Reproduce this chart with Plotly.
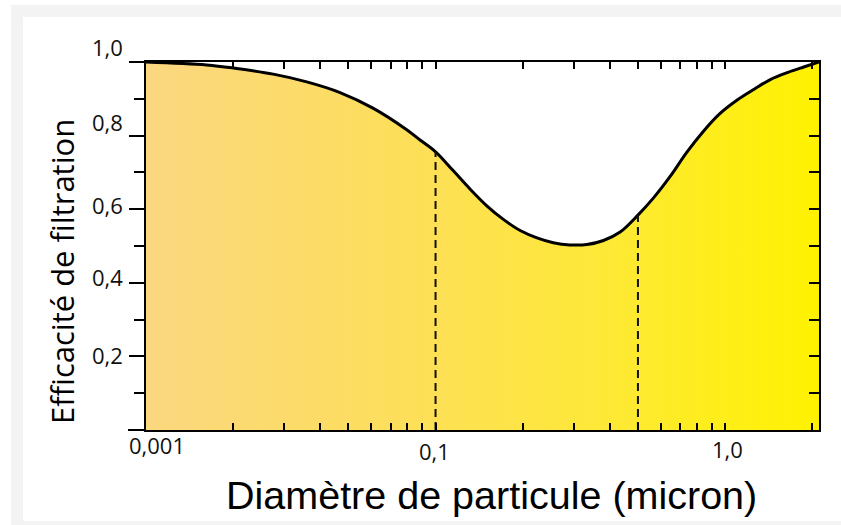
import numpy as np
import plotly.graph_objects as go

# ---------------- data ----------------
diam = [0.01, 0.0162, 0.0203, 0.0275, 0.0359, 0.0468, 0.061, 0.0795, 0.0884, 0.1,
        0.115, 0.1315, 0.15, 0.171, 0.196, 0.224, 0.255, 0.291, 0.333, 0.38,
        0.434, 0.5, 0.565, 0.646, 0.738, 0.842, 0.957, 1.098, 1.26, 1.438,
        1.65, 1.88, 2.11]
eff = [1.0, 0.992, 0.983, 0.967, 0.946, 0.917, 0.874, 0.816, 0.788, 0.756,
       0.705, 0.655, 0.610, 0.573, 0.542, 0.522, 0.509, 0.503, 0.504, 0.515,
       0.538, 0.584, 0.630, 0.689, 0.755, 0.812, 0.859, 0.896, 0.926, 0.953,
       0.972, 0.987, 1.0]
dashed_at = [0.1, 0.5]
x_tick_vals = [0.01, 0.02, 0.03, 0.04, 0.05, 0.06, 0.07, 0.08, 0.09,
               0.1, 0.2, 0.3, 0.4, 0.5, 0.6, 0.7, 0.8, 0.9, 1.0, 2.0]
x_label_vals = [0.01, 0.1, 1.0]
x_label_text = ["0,001", "0,1", "1,0"]
y_major_vals = [0, 0.2, 0.4, 0.6, 0.8, 1.0]
y_minor_vals = [0.1, 0.2, 0.3, 0.4, 0.5, 0.6, 0.7, 0.8, 0.9]
y_label_vals = [0.2, 0.4, 0.6, 0.8, 1.0]
y_label_text = ["0,2", "0,4", "0,6", "0,8", "1,0"]
x_title = "Diamètre de particule (micron)"
y_title = "Efficacité de filtration"

# ---------------- layout geometry (pixels) ----------------
W, H = 841, 525
L, R, T, B = 146, 819, 62, 430


def px_x(p):
    return (p - L) / (R - L)


def px_y(p):
    return (B - p) / (B - T)


# label placement styles (pixel centres)
x_label_pos = [(157, 445), (434, 451), (727, 449)]
y_label_center = [355, 277, 205, 122, 47]

fig = go.Figure()

fig.add_trace(go.Scatter(
    x=diam, y=eff, mode="lines",
    line=dict(color="black", width=3, shape="spline", smoothing=1.0),
    fill="tozeroy",
    fillgradient=dict(type="horizontal",
                      colorscale=[[0, "#FBD780"], [0.4, "#FDDF58"],
                                  [0.7, "#FEE934"], [1, "#FFF200"]]),
    hoverinfo="skip", cliponaxis=False,
))

for xv in dashed_at:
    yv = float(np.interp(np.log10(xv), np.log10(diam), eff))
    fig.add_trace(go.Scatter(
        x=[xv, xv], y=[0, yv], mode="lines",
        line=dict(color="#111111", width=2, dash="8px,5px"),
        hoverinfo="skip",
    ))

# invisible trace to host the right-side tick axis
fig.add_trace(go.Scatter(x=diam, y=eff, yaxis="y2", mode="lines",
                         line=dict(width=0), opacity=0, hoverinfo="skip"))

fig.update_layout(
    width=W, height=H,
    margin=dict(l=L, r=W - R, t=T, b=H - B, autoexpand=False),
    paper_bgcolor="white", plot_bgcolor="rgba(0,0,0,0)",
    showlegend=False,
    xaxis=dict(type="log", range=[-2, np.log10(2.11)], showline=True,
               linecolor="black", linewidth=2, mirror="ticks",
               ticks="inside", ticklen=7, tickwidth=2, tickcolor="black",
               tickvals=x_tick_vals, showticklabels=False,
               showgrid=False, zeroline=False),
    yaxis=dict(range=[0, 1], showline=True, linecolor="black", linewidth=2,
               mirror=True, ticks="outside", ticklen=15, tickwidth=2,
               tickcolor="black", tickvals=y_major_vals, showticklabels=False,
               minor=dict(ticks="outside", ticklen=10, tickwidth=2,
                          tickcolor="black", tickvals=y_minor_vals),
               showgrid=False, zeroline=False),
    yaxis2=dict(range=[0, 1], overlaying="y", side="right", ticks="inside",
                ticklen=10, tickwidth=2, tickcolor="black",
                tickvals=y_minor_vals, showticklabels=False,
                showgrid=False, zeroline=False, showline=False),
)

shapes = [
    dict(type="rect", xref="paper", yref="paper", layer="below",
         x0=px_x(11), x1=px_x(850), y0=px_y(535), y1=px_y(5),
         fillcolor="#F3F3F3", line=dict(width=0)),
    dict(type="rect", xref="paper", yref="paper", layer="below",
         x0=px_x(23), x1=px_x(850), y0=px_y(521), y1=px_y(17),
         fillcolor="white", line=dict(width=0)),
    dict(type="line", xref="paper", yref="paper",
         x0=px_x(128), x1=px_x(146), y0=0, y1=0,
         line=dict(color="black", width=2)),
]
fig.update_layout(shapes=shapes)

ann = []
for v, t, (cx, cy) in zip(x_label_vals, x_label_text, x_label_pos):
    ann.append(dict(x=px_x(cx), y=px_y(cy), xref="paper", yref="paper",
                    text=t, showarrow=False, xanchor="center", yanchor="middle",
                    font=dict(family="Open Sans", size=22, color="#111111")))
for v, t, cy in zip(y_label_vals, y_label_text, y_label_center):
    ann.append(dict(x=px_x(125), y=px_y(cy), xref="paper", yref="paper",
                    text=t, showarrow=False, xanchor="right", yanchor="middle",
                    font=dict(family="Open Sans", size=22, color="#111111")))
ann.append(dict(x=px_x(492), y=px_y(495), xref="paper", yref="paper",
                text=x_title, showarrow=False, xanchor="center", yanchor="middle",
                font=dict(family="Liberation Sans", size=39.5, color="black")))
ann.append(dict(x=px_x(62), y=px_y(272), xref="paper", yref="paper",
                text=y_title, showarrow=False, textangle=-90,
                xanchor="center", yanchor="middle",
                font=dict(family="Open Sans", size=31, color="black")))
fig.update_layout(annotations=ann)

fig.write_html(
    "out.html",
    config={"displayModeBar": False},
    post_script="document.body.style.margin='0px';document.body.style.overflow='hidden';",
)
